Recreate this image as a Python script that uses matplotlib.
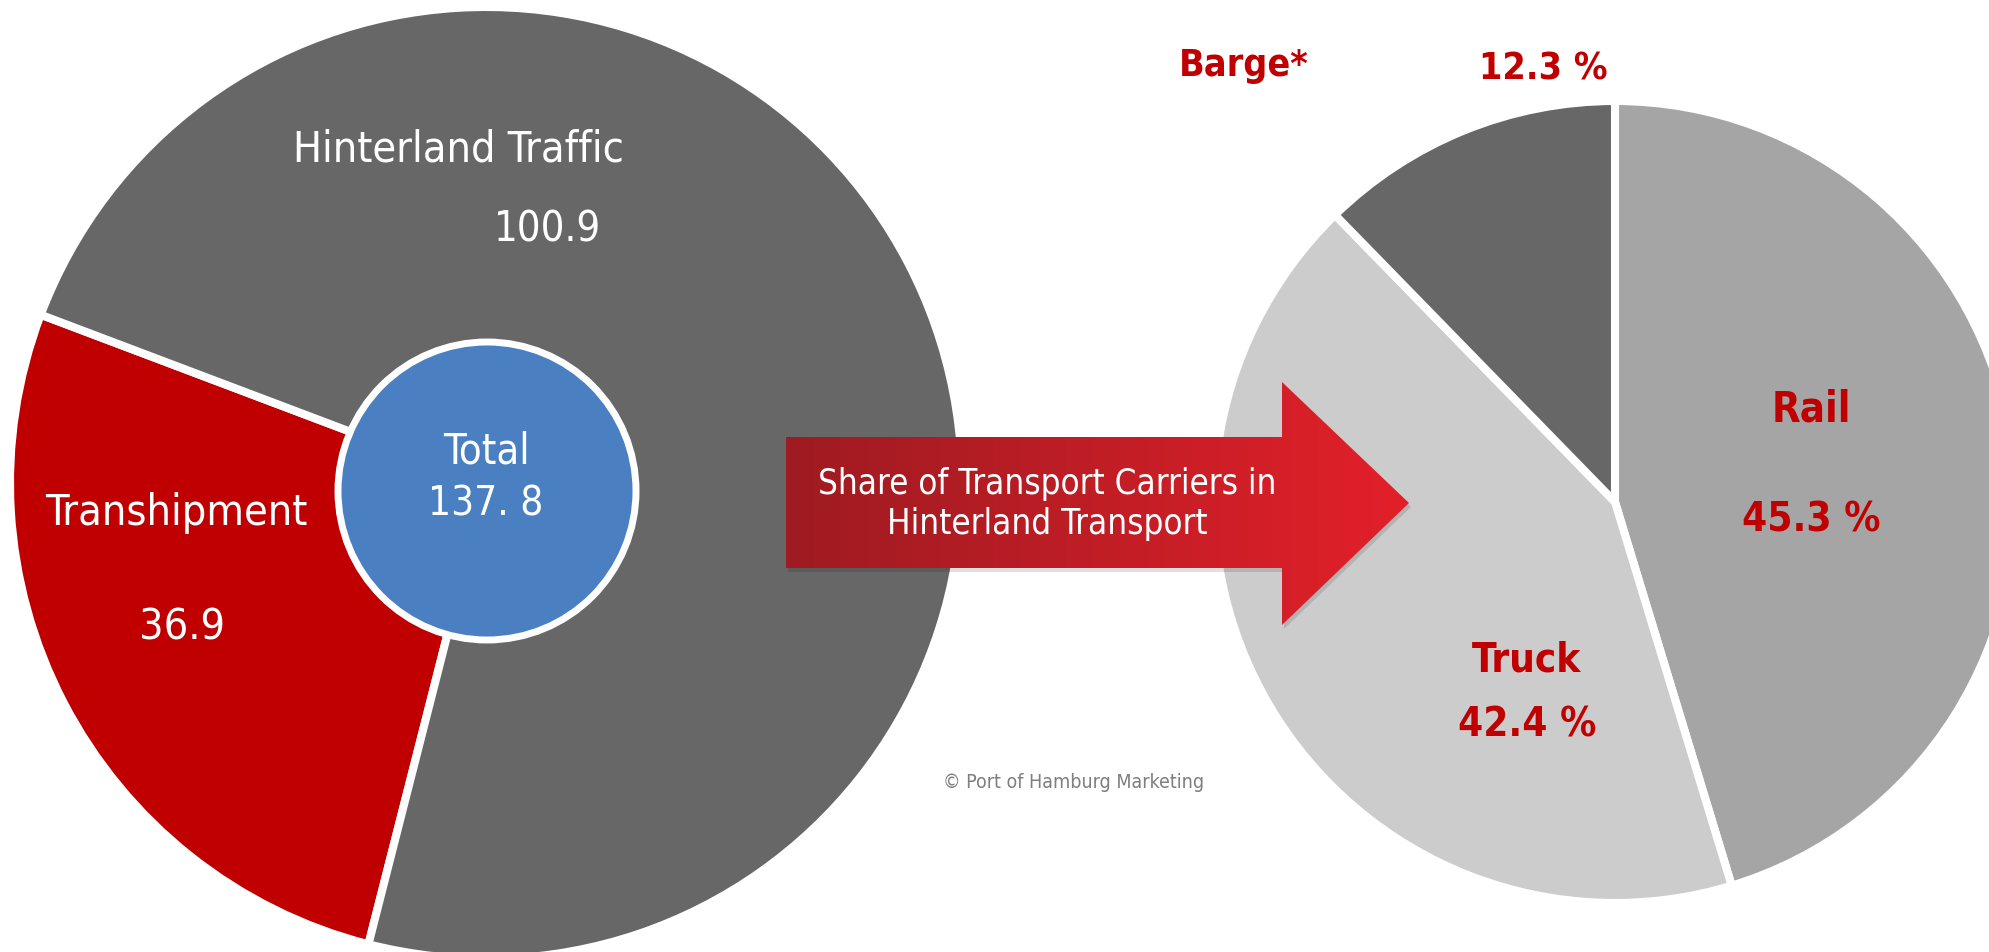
import numpy as np
import matplotlib
matplotlib.use('Agg')
import matplotlib.pyplot as plt
from matplotlib.patches import Polygon, Circle
from matplotlib.colors import LinearSegmentedColormap

# 数据
left_labels = ['Transhipment', 'Hinterland Traffic']
left_values = [36.9, 100.9]
left_colors = ['#c00000', '#676767']
total_value = 137.8

right_labels = ['Rail', 'Truck', 'Barge*']
right_values = [45.3, 42.4, 12.3]
right_colors = ['#a5a5a5', '#cccccc', '#676767']

arrow_text = 'Share of Transport Carriers in\nHinterland Transport'
credit_text = '\u00a9 Port of Hamburg Marketing'

W, H = 1990, 953
FONT = ['DejaVu Sans']
RED = '#c00000'


def yy(y_img):
    # 图片坐标(向下) -> 数据坐标(向上)
    return H - y_img


fig = plt.figure(figsize=(W / 100, H / 100), dpi=100)
ax = fig.add_axes([0, 0, 1, 1])

# 左边的饼图
ax.pie(left_values, colors=left_colors, startangle=159.3, counterclock=True,
       center=(486, yy(484)), radius=476, frame=True,
       wedgeprops=dict(edgecolor='white', linewidth=5.8))

# 中间的 Total 圆
ax.add_patch(Circle((487, yy(492)), 149, facecolor='#4a7fc1',
                    edgecolor='white', linewidth=5, zorder=3))

# 右边的饼图
ax.pie(right_values, colors=right_colors, startangle=90, counterclock=False,
       center=(1615, yy(503)), radius=401, frame=True,
       wedgeprops=dict(edgecolor='white', linewidth=5.8))

# 渐变箭头 (带一点阴影)
arrow_pts = [(786, yy(438)), (1282, yy(438)), (1282, yy(383)), (1409, yy(504)),
             (1282, yy(626)), (1282, yy(569)), (786, yy(569))]
shadow_pts = [(x + 2, y - 4) for x, y in arrow_pts]
ax.add_patch(Polygon(shadow_pts, closed=True, facecolor='black', alpha=0.12,
                     edgecolor='none', zorder=4))
arrow = Polygon(arrow_pts, closed=True, facecolor='none', edgecolor='none', zorder=4)
ax.add_patch(arrow)
cmap = LinearSegmentedColormap.from_list('arr', ['#9e1b21', '#e3202a'])
grad = np.linspace(0, 1, 256).reshape(1, -1)
im = ax.imshow(grad, cmap=cmap, extent=(786, 1409, yy(626), yy(383)),
               aspect='auto', zorder=4.5, interpolation='bicubic')
im.set_clip_path(arrow)

# 左侧文字
t_kw = dict(ha='center', va='center', family=FONT, fontstretch='condensed', zorder=6)
ax.text(458, yy(150), left_labels[1], color='white', fontsize=31, **t_kw)
ax.text(548, yy(229), '%.1f' % left_values[1], color='white', fontsize=30, **t_kw)
ax.text(176, yy(513), left_labels[0], color='white', fontsize=31, **t_kw)
ax.text(182, yy(627), '%.1f' % left_values[0], color='white', fontsize=31, **t_kw)
ax.text(486, yy(452), 'Total', color='white', fontsize=30, **t_kw)
ax.text(486, yy(505), ('%.1f' % total_value).replace('.', '. '), color='white',
        fontsize=29, **t_kw)

# 箭头上的文字
ax.text(1047, yy(504), arrow_text, color='white', fontsize=25,
        linespacing=1.2, **t_kw)

# 右侧文字
r_kw = dict(color=RED, fontweight='bold', **t_kw)
ax.text(1811, yy(410), right_labels[0], fontsize=30, **r_kw)
ax.text(1811, yy(520), '%.1f %%' % right_values[0], fontsize=29, **r_kw)
ax.text(1527, yy(660), right_labels[1], fontsize=29, **r_kw)
ax.text(1527, yy(726), '%.1f %%' % right_values[1], fontsize=29, **r_kw)
ax.text(1244, yy(66), right_labels[2], fontsize=27, **r_kw)
ax.text(1543, yy(70), '%.1f %%' % right_values[2], fontsize=27, **r_kw)

ax.text(1074, yy(783), credit_text, color='#7f7f7f', fontsize=14, **t_kw)

ax.set_xlim(0, W)
ax.set_ylim(0, H)
ax.set_aspect('auto')
ax.axis('off')

fig.savefig('out.png', dpi=100)
